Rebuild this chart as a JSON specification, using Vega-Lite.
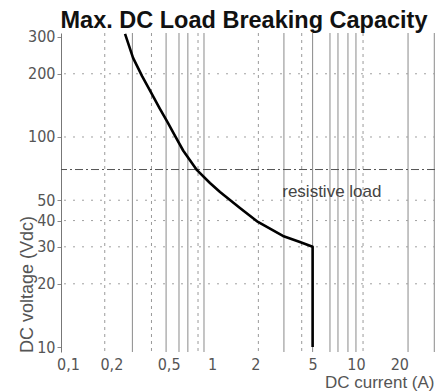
{
  "$schema": "https://vega.github.io/schema/vega-lite/v6.json",
  "width": 374,
  "height": 319,
  "autosize": {"type": "none"},
  "padding": {"left": 61, "top": 33, "right": 4, "bottom": 40},
  "background": "white",
  "config": {"view": {"stroke": null}, "font": "Liberation Sans"},
  "title": {
    "text": "Max. DC Load Breaking Capacity",
    "fontSize": 23.5,
    "fontWeight": "bold",
    "font": "Liberation Sans",
    "color": "#111111",
    "anchor": "middle",
    "offset": 0,
    "dx": -4,
    "dy": 4
  },
  "datasets": {
    "vsolid": [
      {"current": 0.28}, {"current": 0.48}, {"current": 0.59}, {"current": 0.68}, {"current": 0.88},
      {"current": 3.16}, {"current": 5}, {"current": 6.6}, {"current": 7.5}, {"current": 8.8},
      {"current": 10}, {"current": 23}, {"current": 35}
    ],
    "vdot": [
      {"current": 0.18}, {"current": 0.38}, {"current": 0.8}, {"current": 2.1}, {"current": 4.2}, {"current": 11.2}
    ],
    "hdot": [
      {"voltage": 20}, {"voltage": 30}, {"voltage": 40}, {"voltage": 50}, {"voltage": 100}, {"voltage": 200}
    ],
    "curve": [
      {"current": 0.249, "voltage": 310},
      {"current": 0.283, "voltage": 238},
      {"current": 0.327, "voltage": 195},
      {"current": 0.377, "voltage": 163},
      {"current": 0.433, "voltage": 137},
      {"current": 0.49, "voltage": 118},
      {"current": 0.555, "voltage": 101},
      {"current": 0.632, "voltage": 86},
      {"current": 0.787, "voltage": 69.5},
      {"current": 0.968, "voltage": 60.4},
      {"current": 1.137, "voltage": 54.7},
      {"current": 1.564, "voltage": 45.9},
      {"current": 2.086, "voltage": 39.4},
      {"current": 3.11, "voltage": 33.8},
      {"current": 4.08, "voltage": 31.6},
      {"current": 5, "voltage": 30},
      {"current": 5, "voltage": 10}
    ],
    "note": [{"current": 6.8, "voltage": 55, "label": "resistive load"}]
  },
  "layer": [
    {
      "data": {"name": "vsolid"},
      "mark": {"type": "rule", "color": "#8a8a8a", "strokeWidth": 1},
      "encoding": {
        "x": {
          "field": "current",
          "type": "quantitative",
          "scale": {"type": "log", "domain": [0.0894, 35.4], "nice": false, "clamp": false},
          "axis": {
            "values": [0.1, 0.2, 0.5, 1, 2, 5, 10, 20],
            "labelExpr": "replace(format(datum.value, '~g'), '.', ',')",
            "title": "DC current (A)",
            "grid": false,
            "domain": false,
            "ticks": false,
            "labelPadding": 4,
            "labelFontSize": 16,
            "labelFont": "Liberation Sans Narrow, DejaVu Sans Condensed, Liberation Sans",
            "labelColor": "#555555",
            "labelFlush": false,
            "titleX": 373,
            "titleY": 35,
            "titleAlign": "right",
            "titleBaseline": "alphabetic",
            "titleFontSize": 17,
            "titleFontWeight": "normal",
            "titleColor": "#555555"
          }
        }
      }
    },
    {
      "data": {"name": "vdot"},
      "mark": {"type": "rule", "color": "#9a9a9a", "strokeWidth": 1, "strokeDash": [3, 4]},
      "encoding": {"x": {"field": "current", "type": "quantitative"}}
    },
    {
      "data": {"name": "hdot"},
      "mark": {"type": "rule", "color": "#a0a0a0", "strokeWidth": 1, "strokeDash": [2, 7]},
      "encoding": {
        "y": {
          "field": "voltage",
          "type": "quantitative",
          "scale": {"type": "log", "domain": [9.47, 312.7], "nice": false},
          "axis": {
            "values": [10, 20, 30, 40, 50, 100, 200, 300],
            "format": "~g",
            "title": "DC voltage (Vdc)",
            "grid": false,
            "domain": true,
            "domainColor": "#777777",
            "ticks": true,
            "tickSize": 4,
            "tickColor": "#888888",
            "labelPadding": 2,
            "labelFontSize": 16,
            "labelFont": "Liberation Sans Narrow, DejaVu Sans Condensed, Liberation Sans",
            "labelColor": "#555555",
            "labelFlush": false,
            "titleX": -34,
            "titleY": 251,
            "titleAngle": -90,
            "titleAlign": "center",
            "titleBaseline": "middle",
            "titleFontSize": 18,
            "titleFontWeight": "normal",
            "titleColor": "#555555"
          }
        }
      }
    },
    {
      "data": {"values": [{"voltage": 70}]},
      "mark": {"type": "rule", "color": "#555555", "strokeWidth": 1, "strokeDash": [8, 3, 2, 3]},
      "encoding": {"y": {"field": "voltage", "type": "quantitative"}}
    },
    {
      "data": {"name": "curve"},
      "mark": {"type": "line", "color": "#000000", "strokeWidth": 2.6, "strokeJoin": "round", "clip": true},
      "encoding": {
        "x": {"field": "current", "type": "quantitative"},
        "y": {"field": "voltage", "type": "quantitative"},
        "order": {"value": null}
      }
    },
    {
      "data": {"name": "note"},
      "mark": {"type": "text", "fontSize": 17, "color": "#444444", "align": "center", "baseline": "middle", "font": "Liberation Sans"},
      "encoding": {
        "x": {"field": "current", "type": "quantitative"},
        "y": {"field": "voltage", "type": "quantitative"},
        "text": {"field": "label"}
      }
    }
  ]
}
